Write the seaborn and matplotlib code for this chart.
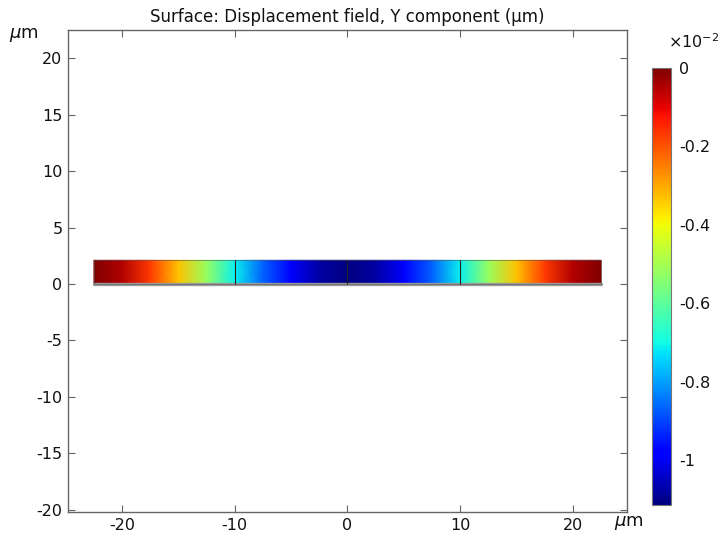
import numpy as np
import matplotlib
matplotlib.use("Agg")
import matplotlib.pyplot as plt
import seaborn as sns

# beam profile (x in um, Y displacement in 1e-2 um)
beam_x = [-22.5, -20, -17.5, -15, -12.5, -10, -7.5, -5, -2.5, 0,
          2.5, 5, 7.5, 10, 12.5, 15, 17.5, 20, 22.5]
disp_y = [0.0, -0.05, -0.17, -0.33, -0.52, -0.71, -0.87, -0.99, -1.08, -1.115,
          -1.08, -0.99, -0.87, -0.71, -0.52, -0.33, -0.17, -0.05, 0.0]
beam_height = [0, 2.1]
domain_bounds = [-10, 0, 10]
cbar_ticks = [0, -0.2, -0.4, -0.6, -0.8, -1]
axis_ticks = [-20, -15, -10, -5, 0, 5, 10, 15, 20]
x_ticks = [-20, -10, 0, 10, 20]

sns.set_style("ticks")
plt.rcParams['font.family'] = ['DejaVu Sans']
plt.rcParams['axes.unicode_minus'] = False
plt.rcParams['font.size'] = 11.5
plt.rcParams['text.color'] = "#111111"

fig = plt.figure(figsize=(7.22, 5.41), dpi=100)
ax = fig.add_axes([0.0942, 0.0536, 0.7742, 0.8909])

X, Y = np.meshgrid(beam_x, beam_height)
Z = np.vstack([disp_y, disp_y])
mesh = ax.pcolormesh(X, Y, Z, cmap="jet", vmin=-1.115, vmax=0, shading="gouraud")

# undeformed edge under the beam and the domain boundaries
sns.lineplot(x=[beam_x[0], beam_x[-1]], y=[0, 0], color="#9a9a9a", lw=2.4, ax=ax)
for xb in domain_bounds:
    ax.plot([xb, xb], beam_height, color="#222222", lw=0.8)
ax.plot([beam_x[0], beam_x[-1], beam_x[-1], beam_x[0], beam_x[0]],
        [0, 0, beam_height[1], beam_height[1], 0], color="#555555", lw=0.4)

ax.set_xlim(-24.8, 24.8)
ax.set_ylim(-20.2, 22.5)
ax.set_xticks(x_ticks)
ax.set_yticks(axis_ticks)
ax.tick_params(direction="in", length=5, width=0.8, color="#666666",
               labelcolor="#111111", top=True, right=True, labelsize=11.5, pad=4)
for s in ax.spines.values():
    s.set_color("#666666")
    s.set_linewidth(1.0)

ax.set_title("Surface: Displacement field, Y component (μm)", fontsize=12, pad=6)
fig.text(0.012, 0.935, r"$\mu$m", fontsize=13, ha="left", va="center")
fig.text(0.851, 0.033, r"$\mu$m", fontsize=13, ha="left", va="center")

cax = fig.add_axes([0.903, 0.0665, 0.026, 0.808])
cb = fig.colorbar(mesh, cax=cax, ticks=cbar_ticks)
cb.ax.set_yticklabels(["0", "-0.2", "-0.4", "-0.6", "-0.8", "-1"])
cb.ax.tick_params(length=0, labelsize=11.5, labelcolor="#111111", pad=6)
cb.outline.set_edgecolor("#777777")
cb.outline.set_linewidth(0.8)
fig.text(0.925, 0.905, "×10$^{-2}$", fontsize=11.5, ha="left", va="bottom")

plt.savefig("out.png", dpi=100)
plt.close()
